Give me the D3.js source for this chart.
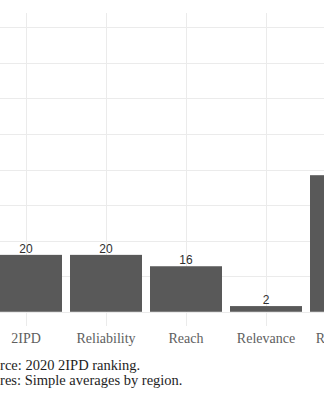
<!DOCTYPE html>
<html>
<head>
<meta charset="utf-8">
<script src="https://cdn.jsdelivr.net/npm/d3@7/dist/d3.min.js"></script>
<style>
  html, body { margin: 0; padding: 0; background: #fff; overflow: hidden; }
  svg { display: block; }
</style>
</head>
<body>
<svg id="chart" width="324" height="400"></svg>
<script>
// Dimension averages from the 2020 2IPD ranking
const categories = ["2IPD", "Reliability", "Reach", "Relevance", "Resonance"];
const values = [20, 20, 16, 2, 48];
const yTicks = [0, 25, 50, 75, 100];
const yMinorTicks = [12.5, 37.5, 62.5, 87.5];
const captionLines = ["Source: 2020 2IPD ranking.", "Figures: Simple averages by region."];

const svg = d3.select("#chart");

// panel geometry
const panelTop = 13, panelBottom = 326;

const x = d3.scaleBand()
  .domain(categories)
  .range([-14, -14 + 80 * categories.length])
  .paddingInner(0.1)
  .paddingOuter(0.05);

// 0..100 with a small expansion band on both ends
const y = d3.scaleLinear()
  .domain([-5, 105])
  .range([panelBottom, panelTop]);

const grid = svg.append("g").attr("class", "grid");

// horizontal grid lines (major and minor)
grid.selectAll("line.h")
  .data(yTicks.concat(yMinorTicks))
  .join("line")
  .attr("class", "h")
  .attr("x1", x.range()[0] - 60).attr("x2", x.range()[1] + 60)
  .attr("y1", d => Math.round(y(d)) + 0.5)
  .attr("y2", d => Math.round(y(d)) + 0.5)
  .attr("stroke", "#ebebeb")
  .attr("stroke-width", 1);

// vertical grid lines at category centres
grid.selectAll("line.v")
  .data(categories)
  .join("line")
  .attr("class", "v")
  .attr("x1", d => Math.round(x(d) + x.bandwidth() / 2) + 0.5)
  .attr("x2", d => Math.round(x(d) + x.bandwidth() / 2) + 0.5)
  .attr("y1", panelTop).attr("y2", panelBottom)
  .attr("stroke", "#ebebeb")
  .attr("stroke-width", 1);

// bars
svg.append("g").selectAll("rect")
  .data(categories.map((c, i) => ({ c, v: values[i] })))
  .join("rect")
  .attr("x", d => x(d.c))
  .attr("width", x.bandwidth())
  .attr("y", d => y(d.v))
  .attr("height", d => y(0) - y(d.v))
  .attr("fill", "#595959");

// value labels
svg.append("g").selectAll("text")
  .data(categories.map((c, i) => ({ c, v: values[i] })))
  .join("text")
  .attr("x", d => x(d.c) + x.bandwidth() / 2)
  .attr("y", d => y(d.v) - 2)
  .attr("text-anchor", "middle")
  .attr("font-family", "'Liberation Sans', Arial, sans-serif")
  .attr("font-size", 12)
  .attr("fill", "#303030")
  .text(d => d.v);

// x axis labels
const xAxis = d3.axisBottom(x).tickSize(0).tickPadding(0);
const gx = svg.append("g")
  .attr("transform", `translate(0, ${panelBottom})`)
  .call(xAxis);
gx.select(".domain").remove();
gx.selectAll("text")
  .attr("dy", null)
  .attr("y", 17)
  .attr("font-family", "'Liberation Serif', 'Times New Roman', serif")
  .attr("font-size", 14)
  .attr("fill", "#5e5e5e");

// caption
const cap = svg.append("g")
  .attr("font-family", "'Liberation Serif', 'Times New Roman', serif")
  .attr("font-size", 14.5)
  .attr("fill", "#1e1e1e");
cap.append("text").attr("x", -22.5).attr("y", 370).text(captionLines[0]);
cap.append("text").attr("x", -26.5).attr("y", 384.5).text(captionLines[1]);
</script>
</body>
</html>
